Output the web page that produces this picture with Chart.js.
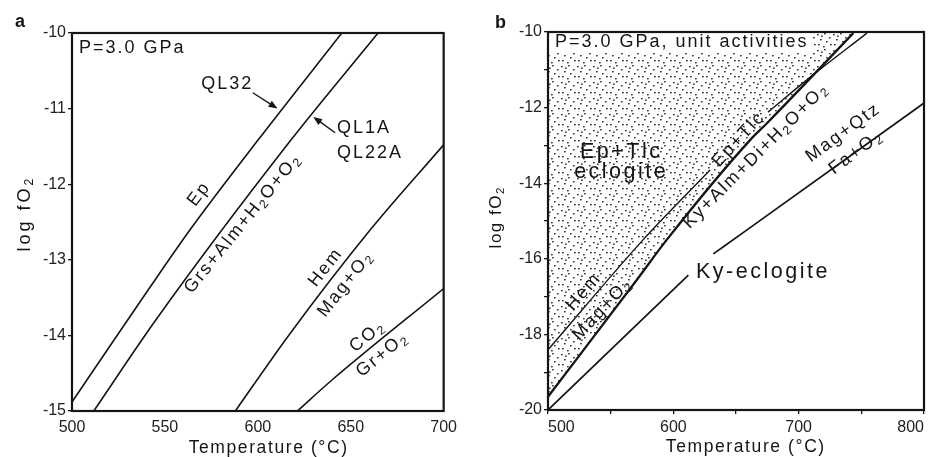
<!DOCTYPE html>
<html>
<head>
<meta charset="utf-8">
<script src="https://cdn.jsdelivr.net/npm/chart.js@4.4.0/dist/chart.umd.min.js"></script>
<style>
  body { margin: 0; background: #fff; }
  #wrap { position: relative; width: 929px; height: 457px; }
  canvas { position: absolute; top: 0; }
  #cA { left: 0; }
  #cB { left: 464px; }
</style>
</head>
<body>
<div id="wrap">
  <canvas id="cA" width="464" height="457"></canvas>
  <canvas id="cB" width="465" height="457"></canvas>
</div>
<script>
// panel a : T (°C) and log fO2
const epTempA  = [500, 541.5, 564.5, 600, 645.2];
const epLogA   = [-14.88, -13.38, -12.57, -11.42, -10.0];
const grsTempA = [511.7, 545, 617.7, 664.7];
const grsLogA  = [-15, -13.80, -11.42, -10.0];
const hemTempA = [587.9, 616, 660.3, 700];
const hemLogA  = [-15, -14.02, -12.61, -11.48];
const co2TempA = [621.3, 639.9, 700];
const co2LogA  = [-15, -14.59, -13.38];

// panel b (null = gap left for a label)
const hmTempB  = [500, 575.8, 629.3, null, 675.5, 709, 754.5];
const hmLogB   = [-18.41, -15.50, -13.65, null, -12.12, -11.2, -10.03];
const eptTempB = [500, 570.8, 594.7, 661.2, 674.5, 743.6];
const eptLogB  = [-19.65, -16.56, -15.50, -12.86, -12.42, -10.03];
const fmqTempB = [500, 612, null, 631.9, 658.5, 799.5];
const fmqLogB  = [-20, -16.43, null, -15.87, -15.24, -11.89];

const xTicksA = [500, 700, 50];
const yTicksA = [-15, -10, 1];
const xTicksB = [500, 800, 50];
const yTicksB = [-20, -10, 1];

const FONT = '"Liberation Sans", Arial, sans-serif';
const INK = '#151515';

// text annotations (data coordinates)
const labelsA = [
  { text: 'P=3.0 GPa', t: 503.7, f: -10.265, align: 'left', base: 'alphabetic' },
  { text: 'QL32', t: 583, f: -10.745, base: 'alphabetic' },
  { text: 'QL1A', t: 642.6, f: -11.327, align: 'left', base: 'alphabetic' },
  { text: 'QL22A', t: 642.6, f: -11.657, align: 'left', base: 'alphabetic' },
  { text: 'Ep', t: 568.1, f: -12.14, rot: -53 },
  { text: 'Grs+Alm+H_2O+O_2', t: 591.5, f: -12.53, rot: -51 },
  { text: 'Hem', t: 636.2, f: -13.11, rot: -52 },
  { text: 'Mag+O_2', t: 646.8, f: -13.33, rot: -52 },
  { text: 'CO_2', t: 658.5, f: -14.02, rot: -39 },
  { text: 'Gr+O_2', t: 666.5, f: -14.26, rot: -39 }
];
const arrowsA = [
  { t0: 597.3, f0: -10.79, t1: 610.6, f1: -11.0 },
  { t0: 641.6, f0: -11.32, t1: 629.8, f1: -11.11 }
];
const labelsB = [
  { text: 'P=3.0 GPa, unit activities', t: 505.6, f: -10.397, align: 'left', base: 'alphabetic' },
  { text: 'Ep+Tlc', t: 557.4, f: -13.333, base: 'alphabetic', size: 21.5, sp: 2.5 },
  { text: 'eclogite', t: 557.4, f: -13.862, base: 'alphabetic', size: 21.5, sp: 2.5 },
  { text: 'Ky-eclogite', t: 670.5, f: -16.52, base: 'alphabetic', size: 21.5, sp: 2.5 },
  { text: 'Hem', t: 527.9, f: -16.89, rot: -49 },
  { text: 'Mag+O_2', t: 542.8, f: -17.35, rot: -47 },
  { text: 'Ep+Tlc', t: 651.6, f: -12.857, rot: -47 },
  { text: 'Ky+Alm+Di+H_2O+O_2', t: 665.2, f: -13.294, rot: -45 },
  { text: 'Mag+Qtz', t: 735.0, f: -12.68, rot: -36 },
  { text: 'Fa+O_2', t: 745.0, f: -13.20, rot: -37 }
];

function pts(ts, fs) {
  return ts.map((t, i) => ({ x: t === null ? ts[i - 1] : t, y: fs[i] }));
}

function drawRich(ctx, str, px, py, rot, size, align, base, sp, bold) {
  const segs = [];
  for (let i = 0; i < str.length; i++) {
    if (str[i] === '_') { segs.push({ s: str[i + 1], sub: true }); i++; }
    else if (segs.length && !segs[segs.length - 1].sub) segs[segs.length - 1].s += str[i];
    else segs.push({ s: str[i], sub: false });
  }
  const fnt = s => (bold ? 'bold ' : '') + s + 'px ' + FONT;
  ctx.save();
  ctx.translate(px, py);
  ctx.rotate(rot * Math.PI / 180);
  ctx.letterSpacing = sp + 'px';
  ctx.textBaseline = base;
  ctx.textAlign = 'left';
  let w = 0;
  segs.forEach(g => {
    ctx.font = fnt(g.sub ? size * 0.68 : size);
    g.w = ctx.measureText(g.s).width;
    w += g.w;
  });
  w -= sp;
  let cx = align === 'center' ? -w / 2 : align === 'right' ? -w : 0;
  const subOff = base === 'middle' ? size * 0.26 : size * 0.16;
  ctx.fillStyle = INK;
  segs.forEach(g => {
    ctx.font = fnt(g.sub ? size * 0.68 : size);
    ctx.fillText(g.s, cx, g.sub ? subOff : 0);
    cx += g.w;
  });
  ctx.restore();
}

const annot = {
  id: 'annot',
  afterDatasetsDraw(chart, args, o) {
    const { ctx, chartArea: a, scales: { x, y } } = chart;
    ctx.save();
    if (o.mask) {
      ctx.fillStyle = '#fff';
      ctx.fillRect(a.left, a.top, x.getPixelForValue(o.mask.t) - a.left, y.getPixelForValue(o.mask.f) - a.top);
    }
    o.labels.forEach(l => {
      drawRich(ctx, l.text, x.getPixelForValue(l.t), y.getPixelForValue(l.f), l.rot || 0,
        l.size || 18, l.align || 'center', l.base || 'middle', l.sp === undefined ? 2 : l.sp);
    });
    (o.arrows || []).forEach(r => {
      const x0 = x.getPixelForValue(r.t0), y0 = y.getPixelForValue(r.f0);
      const x1 = x.getPixelForValue(r.t1), y1 = y.getPixelForValue(r.f1);
      const ang = Math.atan2(y1 - y0, x1 - x0);
      ctx.strokeStyle = INK; ctx.fillStyle = INK; ctx.lineWidth = 1.4;
      ctx.beginPath(); ctx.moveTo(x0, y0);
      ctx.lineTo(x1 - 6 * Math.cos(ang), y1 - 6 * Math.sin(ang)); ctx.stroke();
      ctx.beginPath(); ctx.moveTo(x1, y1);
      ctx.lineTo(x1 - 9 * Math.cos(ang) + 3.5 * Math.sin(ang), y1 - 9 * Math.sin(ang) - 3.5 * Math.cos(ang));
      ctx.lineTo(x1 - 9 * Math.cos(ang) - 3.5 * Math.sin(ang), y1 - 9 * Math.sin(ang) + 3.5 * Math.cos(ang));
      ctx.closePath(); ctx.fill();
    });
    ctx.strokeStyle = INK;
    ctx.lineWidth = 2.2;
    ctx.strokeRect(a.left, a.top, a.width, a.height);
    // axis titles and panel letter
    drawRich(ctx, 'Temperature (°C)', (a.left + a.right) / 2 + o.xTitleDx, o.xTitleY, 0, 17.5, 'center', 'alphabetic', 1.6);
    drawRich(ctx, 'log fO_2', o.yTitleX, (a.top + a.bottom) / 2 + o.yTitleDy, -90, o.yTitleSize, 'center', 'middle', o.yTitleSp);
    drawRich(ctx, o.letter, o.letterX, o.letterY, 0, 18, 'left', 'alphabetic', 0, true);
    ctx.restore();
  }
};

function line(ts, fs, w, extra) {
  return Object.assign({
    data: pts(ts, fs), borderColor: INK, borderWidth: w, pointRadius: 0,
    cubicInterpolationMode: 'monotone', fill: false, spanGaps: false
  }, extra || {});
}

function axes(xr, yr, yWidth, xHeight, xOpts, yOpts) {
  const tickFont = { family: FONT, size: 16 };
  return {
    x: Object.assign({
      type: 'linear', min: xr[0], max: xr[1],
      ticks: { stepSize: xr[2], font: tickFont, color: '#222', padding: 7, maxRotation: 0, autoSkip: false },
      grid: { display: true, drawOnChartArea: false, drawTicks: false },
      border: { display: false },
      afterFit: s => { s.height = xHeight; }
    }, xOpts || {}),
    y: Object.assign({
      type: 'linear', min: yr[0], max: yr[1],
      ticks: { stepSize: yr[2], font: tickFont, color: '#222', padding: 2, autoSkip: false },
      grid: { display: true, drawOnChartArea: false, tickLength: 4, color: INK, lineWidth: 1.3 },
      border: { display: false },
      afterFit: s => { s.width = yWidth; }
    }, yOpts || {})
  };
}

// panel a
new Chart(document.getElementById('cA'), {
  type: 'line',
  data: {
    datasets: [
      line(epTempA, epLogA, 1.6),
      line(grsTempA, grsLogA, 1.6),
      line(hemTempA, hemLogA, 1.6),
      line(co2TempA, co2LogA, 1.6)
    ]
  },
  options: {
    responsive: false, animation: false,
    layout: { padding: { top: 33, right: 16, left: 0, bottom: 0 } },
    plugins: {
      legend: { display: false }, tooltip: { enabled: false },
      annot: {
        labels: labelsA, arrows: arrowsA,
        xTitleDx: 10, xTitleY: 453, yTitleX: 25, yTitleDy: -7, yTitleSize: 18, yTitleSp: 3,
        letter: 'a', letterX: 15, letterY: 27
      }
    },
    scales: axes(xTicksA, yTicksA, 72, 46)
  },
  plugins: [annot]
});

// panel b
const ctxB = document.getElementById('cB').getContext('2d');
const tile = document.createElement('canvas');
tile.width = 16; tile.height = 16;
const tg = tile.getContext('2d');
tg.fillStyle = '#333';
[[1, 2], [8, 1], [13, 5], [4, 7], [10, 9], [2, 12], [7, 14], [14, 12], [5, 3.5]].forEach(([px, py]) => tg.fillRect(px, py, 1.7, 1.4));
const stipple = ctxB.createPattern(tile, 'repeat');

new Chart(ctxB, {
  type: 'line',
  data: {
    datasets: [
      line(eptTempB, eptLogB, 2.3, { fill: 'end', backgroundColor: stipple }),
      line(hmTempB, hmLogB, 1.4),
      line(fmqTempB, fmqLogB, 1.7)
    ]
  },
  options: {
    responsive: false, animation: false,
    layout: { padding: { top: 32, right: 5, left: 0, bottom: 0 } },
    plugins: {
      legend: { display: false }, tooltip: { enabled: false },
      annot: {
        labels: labelsB, mask: { t: 710.7, f: -10.556 },
        xTitleDx: 9, xTitleY: 452, yTitleX: 32, yTitleDy: -3, yTitleSize: 17, yTitleSp: 1.5,
        letter: 'b', letterX: 31, letterY: 28
      }
    },
    scales: axes(xTicksB, yTicksB, 84, 47,
      {
        ticks: { stepSize: 50, font: { family: FONT, size: 16 }, color: '#222', padding: 4, maxRotation: 0,
          autoSkip: false, align: 'inner', callback: v => (v % 100 === 0 ? v : '') },
        grid: { display: true, drawOnChartArea: false, tickLength: 4, color: INK, lineWidth: 1.3 }
      },
      {
        ticks: { stepSize: 1, font: { family: FONT, size: 16 }, color: '#222', padding: 2,
          autoSkip: false, callback: v => (v % 2 === 0 ? v : '') }
      })
  },
  plugins: [annot]
});
</script>
</body>
</html>
